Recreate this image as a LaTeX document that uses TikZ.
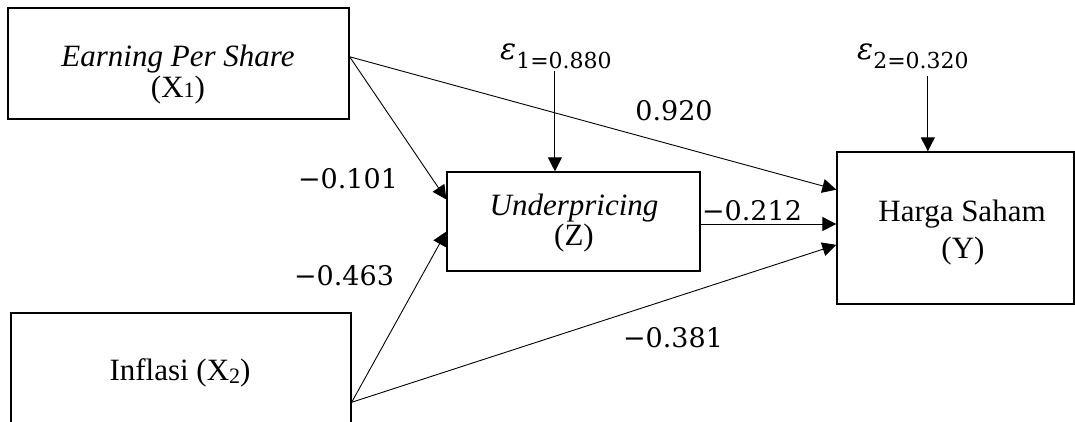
\documentclass[tikz,border=0pt]{standalone}
\usepackage{fontspec}
\setmainfont{Liberation Serif}
\newfontfamily\numfont{DejaVu Serif}
\usetikzlibrary{arrows.meta,calc}
\begin{document}
\begin{tikzpicture}[x=1pt,y=-1pt,
 box/.style={draw, line width=1.3pt, inner sep=0pt},
 txt/.style={font=\fontsize{31}{34}\selectfont, inner sep=0pt, anchor=base},
 coef/.style={font=\numfont\fontsize{27}{30}\selectfont, inner sep=0pt, anchor=base},
 epsl/.style={font=\numfont, inner sep=0pt, anchor=base west},
 arr/.style={line width=0.9pt, -{Triangle[length=14pt,width=14pt]}}]
\useasboundingbox (0,0) rectangle (1075,421);
\begin{scope}
\clip (0,0) rectangle (1075,421);
\node[box, minimum width=341pt, minimum height=111pt] (X1) at (178.5,63.5) {};
\node[box, minimum width=253pt, minimum height=99pt] (Z) at (573.5,221.5) {};
\node[box, minimum width=237pt, minimum height=152pt] (Y) at (955.5,228) {};
\node[box, minimum width=340pt, minimum height=114pt] (X2) at (181,370) {};
\end{scope}
% texts in boxes
\node[txt] (x1a) at (178,66) {\textit{Earning Per Share}};
\node[txt] (x1b) at (178,97) {(X{\fontsize{22}{22}\selectfont 1})};
\node[txt] (za) at (574,215) {\textit{Underpricing}};
\node[txt] (zb) at (574,245) {(Z)};
\node[txt] (ya) at (962,221) {Harga Saham};
\node[txt] (yb) at (963,258) {(Y)};
\node[txt] (x2a) at (180,380) {Inflasi (X\raisebox{-3pt}{\fontsize{22}{22}\selectfont 2})};
% error terms
\node[epsl] (e1) at (500,59) {\fontsize{30}{30}\selectfont\textit{ε}\raisebox{-9pt}{\fontsize{22}{22}\selectfont 1=0.880}};
\node[epsl] (e2) at (857,59) {\fontsize{30}{30}\selectfont\textit{ε}\raisebox{-9pt}{\fontsize{22}{22}\selectfont 2=0.320}};
% connection points
\coordinate (x1o) at ($(X1.north east)!0.44!(X1.south east)$);
\coordinate (x2o) at ($(X2.north east)!0.78!(X2.south east)$);
\coordinate (zi1) at ($(Z.north west)!0.28!(Z.south west)$);
\coordinate (zi2) at ($(Z.north west)!0.60!(Z.south west)$);
\coordinate (zo) at ($(Z.north east)!0.525!(Z.south east)$);
\coordinate (yi1) at ($(Y.north west)!0.25!(Y.south west)$);
\coordinate (yi2) at (Y.west |- zo);
\coordinate (yi3) at ($(Y.north west)!0.61!(Y.south west)$);
\coordinate (zt) at ($(Z.north west)!0.427!(Z.north east)$);
\coordinate (yt) at ($(Y.north west)!0.384!(Y.north east)$);
\coordinate (e1s) at (zt |- 0,71);
\coordinate (e2s) at (yt |- 0,76);
% arrows
\draw[arr] (x1o) -- (zi1);
\draw[arr] (x1o) -- (yi1);
\draw[arr] (x2o) -- (zi2);
\draw[arr] (x2o) -- (yi3);
\draw[arr] (zo) -- (yi2);
\draw[arr] (e1s) -- (zt);
\draw[arr] (e2s) -- (yt);
% coefficients
\node[coef] (c1) at (348,188) {−0.101};
\node[coef] (c2) at (344,285) {−0.463};
\node[coef] (c3) at (674,120) {0.920};
\node[coef] (c4) at (752,220) {−0.212};
\node[coef] (c5) at (673,347) {−0.381};
\end{tikzpicture}
\end{document}
